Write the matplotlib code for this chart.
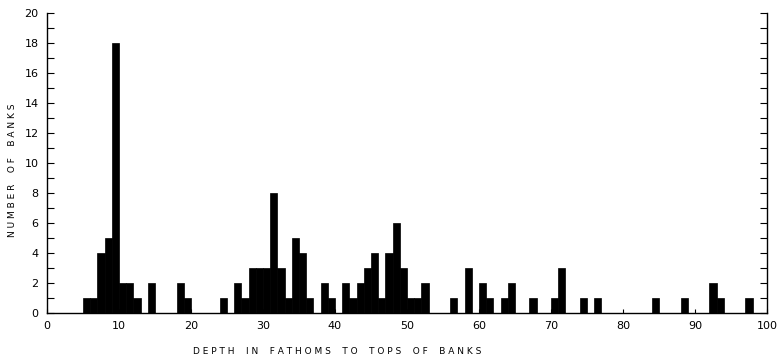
import matplotlib
matplotlib.use('Agg')
import matplotlib.pyplot as plt
import numpy as np

# depth bins (fathoms, left edge) and number of banks in each
depth = [5, 6, 7, 8, 9, 10, 11, 12, 14, 18, 19, 24, 26, 27, 28, 29, 30, 31, 32, 33,
         34, 35, 36, 38, 39, 41, 42, 43, 44, 45, 46, 47, 48, 49, 50, 51, 52, 56, 58,
         60, 61, 63, 64, 67, 70, 71, 74, 76, 84, 88, 92, 93, 97]
banks = [1, 1, 4, 5, 18, 2, 2, 1, 2, 2, 1, 1, 2, 1, 3, 3, 3, 8, 3, 1,
         5, 4, 1, 2, 1, 2, 1, 2, 3, 4, 1, 4, 6, 3, 1, 1, 2, 1, 3,
         2, 1, 1, 2, 1, 1, 3, 1, 1, 1, 1, 2, 1, 1]

xticks = list(range(0, 101, 10))
yticks = list(range(0, 21, 2))

fig = plt.figure(figsize=(7.77, 3.62), dpi=100)
ax = fig.add_axes([47/777, 49/362, 720/777, 300/362])

ax.bar(depth, banks, width=1.0, align='edge', color='black', edgecolor='black', linewidth=0.5)

ax.set_xlim(0, 100)
ax.set_ylim(0, 20)

ax.spines['top'].set_visible(False)
for s in ['left', 'right', 'bottom']:
    ax.spines[s].set_linewidth(1.0)
    ax.spines[s].set_color('black')

ax.set_xticks(xticks)
ax.set_xticklabels([str(t) for t in xticks], fontsize=8)
ax.set_yticks(yticks)
ax.set_yticklabels([str(t) for t in yticks], fontsize=8)
ax.set_yticks(range(0, 21), minor=True)
ax.tick_params(axis='x', direction='in', length=3, width=0.8, pad=6)
ax.tick_params(axis='y', which='both', direction='in', length=5, width=0.8,
               left=True, right=True, labelright=False, pad=6)

fig.text(337/777, 1 - 352/362, 'D E P T H    I N    F A T H O M S    T O    T O P S    O F    B A N K S',
         ha='center', va='center', fontsize=6.5)
fig.text(13/777, 1 - 170/362, 'N U M B E R    O F    B A N K S', rotation=90,
         ha='center', va='center', fontsize=6.5)

fig.savefig('out.png', dpi=100)
